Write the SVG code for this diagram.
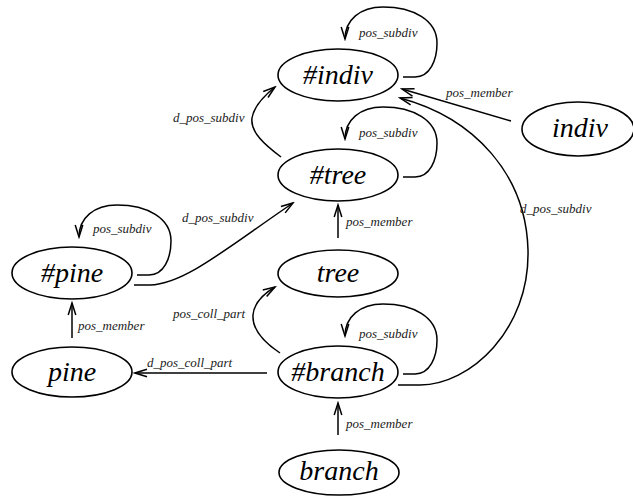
<svg xmlns="http://www.w3.org/2000/svg" width="633" height="497" viewBox="0 0 633 497">
<style>
  .node ellipse { fill: none; stroke: #000; stroke-width: 1.6; }
  .node text { font-family: "Liberation Serif", "Times New Roman", serif; font-style: italic; font-size: 28px; text-anchor: middle; fill: #000; }
  .edge { fill: none; stroke: #000; stroke-width: 1.5; }
  .lbl { font-family: "Liberation Serif", "Times New Roman", serif; font-style: italic; font-size: 13px; fill: #222; }
</style>
<defs>
  <marker id="arr" markerUnits="userSpaceOnUse" viewBox="-14 -6 16 12" refX="0" refY="0" markerWidth="16" markerHeight="12" orient="auto">
    <path d="M-12,-3.8 L0,0 L-12,3.8" fill="none" stroke="#000" stroke-width="1.5"/>
  </marker>
  <path id="loop" class="edge" d="M65,2 L77,2 C92,2 99,-15 99,-32 C99,-55 75,-68 45,-68 C22,-68 7,-55 7,-36" marker-end="url(#arr)"/>
</defs>

<g id="connectors">
  <!-- self loops pos_subdiv -->
  <use href="#loop" transform="translate(338,75)"/>
  <use href="#loop" transform="translate(338,175)"/>
  <use href="#loop" transform="translate(338,372)"/>
  <use href="#loop" transform="translate(72,273)"/>
  <!-- #tree -> #indiv d_pos_subdiv -->
  <path class="edge" d="M281,157 C265,145 250,132 252,118 C254,105 265,95 275,87" marker-end="url(#arr)"/>
  <!-- indiv -> #indiv pos_member -->
  <path class="edge" d="M511,121 L402,89" marker-end="url(#arr)"/>
  <!-- #branch -> #indiv d_pos_subdiv -->
  <path class="edge" d="M398,385 L420,385 C470,385 530,330 528,250 C526,175 475,118 400,98" marker-end="url(#arr)"/>
  <!-- tree -> #tree pos_member -->
  <path class="edge" d="M338,238 L338,205" marker-end="url(#arr)"/>
  <!-- #pine -> #tree d_pos_subdiv -->
  <path class="edge" d="M134,285 L150,285 C185,284 228,247 293,203" marker-end="url(#arr)"/>
  <!-- pine -> #pine pos_member -->
  <path class="edge" d="M72,338 L72,303" marker-end="url(#arr)"/>
  <!-- #branch -> tree pos_coll_part -->
  <path class="edge" d="M280,353 C265,343 252,330 253,315 C254,302 265,293 275,287" marker-end="url(#arr)"/>
  <!-- #branch -> pine d_pos_coll_part -->
  <path class="edge" d="M267,373 L135,373" marker-end="url(#arr)"/>
  <!-- branch -> #branch pos_member -->
  <path class="edge" d="M338,435 L338,403" marker-end="url(#arr)"/>

  <text class="lbl" x="359" y="37">pos_subdiv</text>
  <text class="lbl" x="359" y="137">pos_subdiv</text>
  <text class="lbl" x="359" y="338">pos_subdiv</text>
  <text class="lbl" x="93" y="233">pos_subdiv</text>
  <text class="lbl" x="173" y="122">d_pos_subdiv</text>
  <text class="lbl" x="446" y="97">pos_member</text>
  <text class="lbl" x="520" y="213">d_pos_subdiv</text>
  <text class="lbl" x="182" y="222">d_pos_subdiv</text>
  <text class="lbl" x="173" y="318">pos_coll_part</text>
  <text class="lbl" x="78" y="330">pos_member</text>
  <text class="lbl" x="147" y="367">d_pos_coll_part</text>
  <text class="lbl" x="346" y="428">pos_member</text>
  <text class="lbl" x="346" y="226">pos_member</text>
</g>

<g id="n_hindiv" class="node"><ellipse cx="338" cy="75" rx="60" ry="26"/><text x="338" y="84">#indiv</text></g>
<g id="n_indiv" class="node"><ellipse cx="578" cy="129" rx="56" ry="27"/><text x="580" y="137">indiv</text></g>
<g id="n_htree" class="node"><ellipse cx="338" cy="175" rx="60" ry="26"/><text x="338" y="184">#tree</text></g>
<g id="n_tree" class="node"><ellipse cx="338" cy="273.5" rx="60" ry="23.5"/><text x="338" y="282">tree</text></g>
<g id="n_hpine" class="node"><ellipse cx="72" cy="273" rx="60" ry="26"/><text x="72" y="282">#pine</text></g>
<g id="n_pine" class="node"><ellipse cx="72" cy="372" rx="60" ry="25"/><text x="72" y="381">pine</text></g>
<g id="n_hbranch" class="node"><ellipse cx="338" cy="372" rx="60" ry="26"/><text x="338" y="381">#branch</text></g>
<g id="n_branch" class="node"><ellipse cx="339" cy="472.5" rx="60" ry="22.5"/><text x="339" y="480">branch</text></g>
</svg>
